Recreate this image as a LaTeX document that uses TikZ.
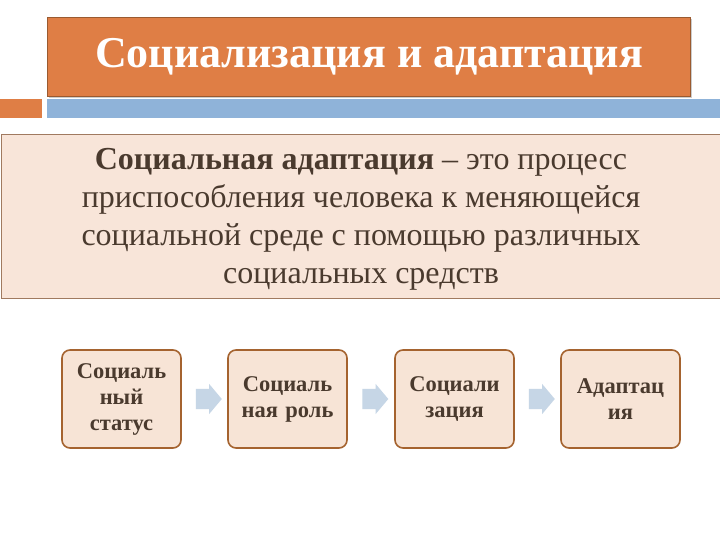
\documentclass[tikz,border=0pt]{standalone}
\usepackage{fontspec}
\setmainfont{Liberation Serif}
\usetikzlibrary{shapes.arrows,calc}
\definecolor{titleorange}{HTML}{DF7E45}
\definecolor{titleborder}{HTML}{9A5A30}
\definecolor{barblue}{HTML}{8FB3D9}
\definecolor{defbg}{HTML}{F8E5D9}
\definecolor{defborder}{HTML}{A07A60}
\definecolor{boxbg}{HTML}{F7E4D6}
\definecolor{boxborder}{HTML}{A5632F}
\definecolor{txtbrown}{HTML}{4A3A2E}
\definecolor{arrowblue}{HTML}{C6D6E6}
\tikzset{
  stagebox/.style={draw=boxborder, line width=1.6pt, fill=boxbg, rounded corners=8pt,
    minimum width=119pt, minimum height=98pt, inner sep=2pt, align=center,
    text width=115pt, font=\fontsize{22.5}{26}\selectfont\bfseries, text=txtbrown},
  chev/.style={single arrow, fill=arrowblue, draw=none, minimum height=26pt,
    inner xsep=0pt, inner ysep=10pt, single arrow head extend=5pt, single arrow tip angle=100}
}
\begin{document}
\begin{tikzpicture}[x=1pt,y=-1pt]
\useasboundingbox (0,0) rectangle (720,540);
\fill[white] (0,0) rectangle (720,540);
% title
\fill[gray!40] (49,19) rectangle (692,98);
\node[draw=titleborder, line width=1.2pt, fill=titleorange, minimum width=643pt, minimum height=79pt,
  anchor=north west, inner sep=0pt, text=white, font=\fontsize{44}{48}\selectfont\bfseries] (title) at (47,17)
  {Социализация и адаптация};
% bars
\fill[titleorange] (0,99) rectangle (42,118);
\fill[barblue] (47,99) rectangle (720,118);
% definition
\node[draw=defborder, line width=1pt, fill=defbg, minimum width=720pt, minimum height=164pt,
  anchor=north west, inner sep=0pt] (defbox) at (0.5,134) {};
\node[align=center, text=txtbrown, inner sep=0pt, font=\fontsize{32}{38}\selectfont] (def)
  at ($(defbox.center)+(0,3)$)
  {\textbf{Социальная адаптация} – это процесс\\приспособления человека к меняющейся\\социальной среде с помощью различных\\социальных средств};
% stages
\node[stagebox] (s1) at (121.5,399) {Социаль\\ный\\статус};
\node[stagebox] (s2) at (287.5,399) {Социаль\\ная роль};
\node[stagebox] (s3) at (454.5,399) {Социали\\зация};
\node[stagebox] (s4) at (620.5,399) {Адаптац\\ия};
\node[chev] (a1) at ($(s1.east)!0.5!(s2.west)$) {};
\node[chev] (a2) at ($(s2.east)!0.5!(s3.west)$) {};
\node[chev] (a3) at ($(s3.east)!0.5!(s4.west)$) {};
\end{tikzpicture}
\end{document}
